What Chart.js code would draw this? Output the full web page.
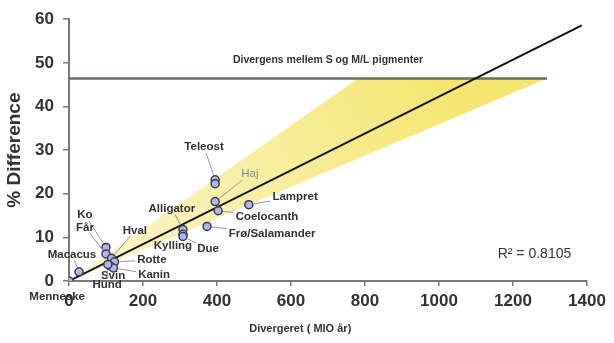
<!DOCTYPE html>
<html>
<head>
<meta charset="utf-8">
<script src="https://cdn.jsdelivr.net/npm/chart.js@4/dist/chart.umd.min.js"></script>
<style>
  html, body { margin: 0; padding: 0; background: #fff; }
  #wrap { width: 614px; height: 343px; }
</style>
</head>
<body>
<div id="wrap"><canvas id="myChart"></canvas></div>
<script>
// Data
const arter = ['Menneske', 'Macacus', 'Ko', 'Får', 'Hval', 'Rotte', 'Svin', 'Kanin', 'Hund',
  'Alligator', 'Kylling', 'Due', 'Frø/Salamander', 'Teleost', '', 'Haj', 'Coelocanth', 'Lampret'];
const divergeret = [0, 27, 100, 100, 115, 123, 110, 120, 105, 308, 308, 308, 373, 395, 395, 395, 403, 486];
const forskel = [0, 2.1, 7.7, 6.2, 5.2, 4.4, 3.5, 3.0, 3.8, 11.8, 10.7, 10.2, 12.5, 23.2, 22.3, 18.2, 16.1, 17.5];

const trendX = [0, 1386];
const trendY = [0, 58.6];
const pigmentNiveau = 46.4;          // Divergens mellem S og M/L pigmenter
const pigmentSlut = 1292;
const baandX = [0, 781, 1292, 0];    // gult område
const baandY = [0, 46.4, 46.4, 0];

const xTicks = [0, 200, 400, 600, 800, 1000, 1200, 1400];
const yTicks = [0, 10, 20, 30, 40, 50, 60];
const r2Tekst = 'R² = 0.8105';
const pigmentTekst = 'Divergens mellem S og M/L pigmenter';

// Placering af navne (i dataenheder), samme rækkefølge som arter
const etiketPos = [[-32, -3.6], [8, 6.1], [43, 15.2], [43, 12.3], [178, 11.6], [224, 4.8], [119, 1.1],
  [230, 1.4], [103, -0.9], [278, 16.6], [281, 8.0], [376, 7.3], [549, 10.9], [365, 30.7], [0, 0],
  [489, 24.5], [535, 14.8], [611, 19.3]];

const FONT = '"Liberation Sans", Arial, sans-serif';
const TXT = '#333';
const AKSE = '#7a7a7a';

const etiketter = {
  id: 'etiketter',
  afterDatasetsDraw(chart) {
    const { ctx, scales: { x, y }, chartArea } = chart;
    ctx.save();
    ctx.textAlign = 'center';
    ctx.textBaseline = 'middle';
    arter.forEach((navn, i) => {
      if (!navn) return;
      const haj = navn === 'Haj';
      ctx.font = (haj ? '' : 'bold ') + '11.5px ' + FONT;
      const px = x.getPixelForValue(divergeret[i]), py = y.getPixelForValue(forskel[i]);
      const lx = x.getPixelForValue(etiketPos[i][0]), ly = y.getPixelForValue(etiketPos[i][1]);
      const w = ctx.measureText(navn).width / 2 + 2, h = 6;
      const dx = lx - px, dy = ly - py;
      const t = Math.min(dx ? w / Math.abs(dx) : Infinity, dy ? h / Math.abs(dy) : Infinity);
      const ex = lx - dx * t, ey = ly - dy * t;
      const len = Math.hypot(ex - px, ey - py);
      if (len > 8 && navn !== 'Menneske') {
        ctx.strokeStyle = '#999';
        ctx.lineWidth = 1;
        ctx.beginPath();
        ctx.moveTo(px + (ex - px) * 5 / len, py + (ey - py) * 5 / len);
        ctx.lineTo(ex, ey);
        ctx.stroke();
      }
      ctx.fillStyle = haj ? '#888' : TXT;
      ctx.fillText(navn, lx, ly);
    });

    // pigment-tekst
    ctx.font = 'bold 10.5px ' + FONT;
    ctx.fillStyle = TXT;
    ctx.fillText(pigmentTekst, x.getPixelForValue(700), y.getPixelForValue(pigmentNiveau) - 18);

    // R²
    ctx.font = '14px ' + FONT;
    ctx.fillText(r2Tekst, x.getPixelForValue(1258), y.getPixelForValue(6.2));

    // aksetitler
    ctx.font = 'bold 11px ' + FONT;
    ctx.fillText('Divergeret ( MIO år)', x.getPixelForValue(625), chart.height - 14);
    ctx.translate(15, (chartArea.top + chartArea.bottom) / 2);
    ctx.rotate(-Math.PI / 2);
    ctx.font = 'bold 19px ' + FONT;
    ctx.fillText('% Difference', 0, 0);
    ctx.restore();
  }
};

const punkter = divergeret.map((v, i) => ({ x: v, y: forskel[i] }));

function gulFyld(context) {
  const { chart } = context;
  const { ctx, chartArea, scales } = chart;
  if (!chartArea) return '#f6ec94';
  const g = ctx.createLinearGradient(scales.x.getPixelForValue(0), scales.y.getPixelForValue(0),
    scales.x.getPixelForValue(1000), scales.y.getPixelForValue(pigmentNiveau));
  g.addColorStop(0, '#faf5cc');
  g.addColorStop(0.5, '#f8efa4');
  g.addColorStop(1, '#f5e672');
  return g;
}

const config = {
  type: 'scatter',
  data: {
    datasets: [
      {
        label: 'Arter',
        data: punkter,
        pointRadius: 4,
        pointBackgroundColor: '#b4b4ec',
        pointBorderColor: '#3c3c4c',
        pointBorderWidth: 1.5
      },
      {
        label: 'Trend',
        data: trendX.map((v, i) => ({ x: v, y: trendY[i] })),
        showLine: true, pointRadius: 0,
        borderColor: '#111', borderWidth: 2
      },
      {
        label: 'Pigment',
        data: [{ x: 0, y: pigmentNiveau }, { x: pigmentSlut, y: pigmentNiveau }],
        showLine: true, pointRadius: 0,
        borderColor: '#6e6e5e', borderWidth: 2.5
      },
      {
        label: 'Bånd',
        data: baandX.map((v, i) => ({ x: v, y: baandY[i] })),
        showLine: true, pointRadius: 0,
        borderWidth: 0, borderColor: 'rgba(0,0,0,0)',
        backgroundColor: gulFyld,
        fill: 'shape'
      }
    ]
  },
  options: {
    responsive: false,
    animation: false,
    layout: { padding: { left: 0, right: 27, top: 16, bottom: 0 } },
    plugins: { legend: { display: false }, tooltip: { enabled: false } },
    scales: {
      x: {
        type: 'linear', min: 0, max: 1400,
        afterBuildTicks: s => { s.ticks = xTicks.map(v => ({ value: v })); },
        afterFit: s => { s.height = 62; },
        grid: { drawOnChartArea: false, color: AKSE, tickLength: 5, lineWidth: 1.5 },
        border: { color: AKSE, width: 2 },
        ticks: { color: TXT, padding: 5, font: { family: FONT, size: 17, weight: 'bold' }, maxRotation: 0,
          callback: v => String(v) }
      },
      y: {
        type: 'linear', min: 0, max: 60,
        afterBuildTicks: s => { s.ticks = yTicks.map(v => ({ value: v })); },
        afterFit: s => { s.width = 69; },
        grid: { drawOnChartArea: false, color: AKSE, tickLength: 6, lineWidth: 1.5 },
        border: { color: AKSE, width: 2 },
        ticks: { color: TXT, padding: 9, font: { family: FONT, size: 17, weight: 'bold' },
          callback: v => String(v) }
      }
    }
  },
  plugins: [etiketter]
};

const cv = document.getElementById('myChart');
cv.width = 614; cv.height = 343;
new Chart(cv, config);
</script>
</body>
</html>
